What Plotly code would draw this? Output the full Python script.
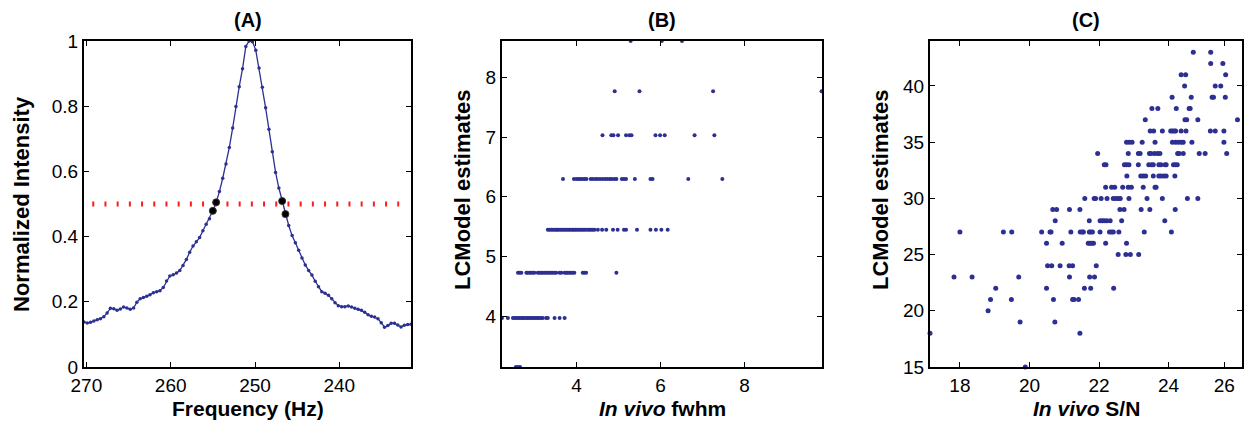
import plotly.graph_objects as go

# ---------------- Panel A: normalized spectrum around the peak ----------------
freq_hz = [
    270.28, 269.89, 269.50, 269.11, 268.71, 268.32, 267.93, 267.54, 267.15, 266.75,
    266.36, 265.97, 265.58, 265.19, 264.80, 264.40, 264.01, 263.62, 263.23, 262.84,
    262.45, 262.05, 261.66, 261.27, 260.88, 260.49, 260.10, 259.70, 259.31, 258.92,
    258.53, 258.14, 257.75, 257.35, 256.96, 256.57, 256.18, 255.79, 255.40, 255.00,
    254.61, 254.22, 253.83, 253.44, 253.05, 252.65, 252.26, 251.87, 251.48, 251.09,
    250.70, 250.30, 249.91, 249.52, 249.13, 248.74, 248.35, 247.95, 247.56, 247.17,
    246.78, 246.39, 246.00, 245.60, 245.21, 244.82, 244.43, 244.04, 243.64, 243.25,
    242.86, 242.47, 242.08, 241.69, 241.29, 240.90, 240.51, 240.12, 239.73, 239.34,
    238.94, 238.55, 238.16, 237.77, 237.38, 236.99, 236.59, 236.20, 235.81, 235.42,
    235.03, 234.64, 234.24, 233.85, 233.46, 233.07, 232.68, 232.29, 231.89, 231.50,
]
intensity = [
    0.138, 0.135, 0.137, 0.141, 0.145, 0.148, 0.154, 0.166, 0.180, 0.179,
    0.174, 0.178, 0.184, 0.181, 0.177, 0.181, 0.199, 0.209, 0.213, 0.217,
    0.222, 0.228, 0.231, 0.234, 0.244, 0.264, 0.279, 0.283, 0.288, 0.296,
    0.311, 0.330, 0.352, 0.371, 0.384, 0.397, 0.418, 0.438, 0.455, 0.479,
    0.505, 0.538, 0.579, 0.623, 0.673, 0.733, 0.799, 0.860, 0.915, 0.983,
    1.000, 0.998, 0.972, 0.917, 0.858, 0.795, 0.729, 0.660, 0.597, 0.549,
    0.509, 0.469, 0.434, 0.403, 0.381, 0.358, 0.334, 0.313, 0.296, 0.282,
    0.263, 0.246, 0.231, 0.226, 0.220, 0.209, 0.197, 0.188, 0.185, 0.185,
    0.187, 0.184, 0.180, 0.177, 0.174, 0.168, 0.160, 0.156, 0.153, 0.148,
    0.136, 0.122, 0.127, 0.134, 0.134, 0.129, 0.123, 0.128, 0.130, 0.131,
]
# samples bracketing the half-maximum on each flank
fwhm_idx = [39, 40, 60, 61]
half_max = 0.5
half_line_x = [269.3, 232.9]

# ---------------- Panel B: LCModel vs in vivo fwhm ----------------
fwhm_levels = {
    3.15: [2.56, 2.61, 2.66],
    3.97: [2.23, 2.37, 2.49, 2.53, 2.57, 2.61, 2.65, 2.69, 2.73, 2.76, 2.81, 2.84, 2.88,
           2.92, 2.96, 3.00, 3.04, 3.08, 3.12, 3.16, 3.20, 3.28, 3.32, 3.48, 3.60, 3.72],
    4.73: [2.61, 2.65, 2.69, 2.81, 2.84, 2.88, 2.92, 2.96, 3.00, 3.08, 3.12, 3.16, 3.20,
           3.24, 3.28, 3.32, 3.36, 3.40, 3.44, 3.48, 3.52, 3.60, 3.64, 3.72, 3.76, 3.79,
           3.83, 3.87, 3.91, 3.95, 4.15, 4.19, 4.23, 4.95],
    5.45: [3.32, 3.36, 3.40, 3.44, 3.48, 3.52, 3.55, 3.59, 3.63, 3.67, 3.71, 3.75, 3.79,
           3.83, 3.87, 3.91, 3.94, 3.98, 4.02, 4.06, 4.10, 4.14, 4.18, 4.22, 4.27, 4.31,
           4.35, 4.39, 4.43, 4.51, 4.61, 4.71, 4.87, 4.98, 5.13, 5.18, 5.44, 5.76, 5.89,
           6.02, 6.17],
    6.30: [3.68, 3.94, 4.00, 4.05, 4.09, 4.14, 4.19, 4.24, 4.34, 4.39, 4.45, 4.50, 4.56,
           4.62, 4.68, 4.73, 4.79, 4.84, 4.90, 4.95, 5.08, 5.13, 5.18, 5.39, 5.76, 5.81,
           6.66, 7.47],
    7.03: [4.62, 4.83, 4.88, 4.99, 5.18, 5.26, 5.31, 5.88, 5.99, 6.10, 6.81, 7.28],
    7.77: [4.91, 5.50, 7.25, 9.83],
    8.61: [5.29, 6.03, 6.51],
}

# ---------------- Panel C: LCModel vs in vivo S/N ----------------
snr_levels = {
    43: [24.71, 25.21],
    42: [25.21, 25.56],
    41: [24.36, 24.49, 25.64],
    40: [24.46, 25.34, 25.50],
    39: [24.10, 24.65, 25.25, 25.29, 25.63],
    38: [23.52, 23.69, 24.22, 24.59, 24.62],
    37: [23.33, 24.47, 24.52, 24.84, 25.98],
    36: [23.47, 23.57, 23.82, 24.06, 24.11, 24.16, 24.20, 24.36, 24.50, 25.20, 25.34, 25.59],
    35: [22.79, 22.87, 22.95, 23.24, 23.61, 24.11, 24.20, 24.28, 24.36, 24.42, 24.67, 25.59],
    34: [21.96, 22.84, 23.13, 23.18, 23.45, 23.49, 23.59, 23.68, 23.75, 24.26, 24.30, 24.42,
         24.88, 25.05, 25.67],
    33: [22.15, 22.20, 22.73, 22.79, 22.86, 23.13, 23.43, 23.51, 23.56, 23.72, 23.78, 23.90,
         23.93, 24.14, 24.19, 24.25],
    32: [22.80, 23.20, 23.27, 23.34, 23.56, 23.72, 23.78, 23.86, 23.93, 24.18],
    31: [22.19, 22.36, 22.45, 22.68, 22.84, 22.93, 23.27, 23.61, 23.64],
    30: [21.59, 21.86, 21.90, 22.06, 22.23, 22.41, 22.48, 22.55, 22.61, 22.86, 23.38, 23.82,
         24.54, 24.84],
    29: [20.67, 20.78, 21.15, 21.45, 22.60, 22.72, 23.21, 23.46, 24.19],
    28: [20.74, 21.72, 22.03, 22.09, 22.15, 22.22, 22.32, 22.65, 23.89],
    27: [18.00, 19.25, 19.49, 20.35, 20.59, 20.62, 21.19, 21.46, 21.52, 21.55, 21.72, 21.76,
         21.81, 22.03, 22.30, 22.36, 22.41, 22.57, 23.30, 24.08],
    26: [20.49, 20.94, 21.69, 21.74, 21.79, 21.84, 22.19, 22.79],
    25: [22.55, 22.77, 22.90, 23.14],
    24: [20.52, 20.64, 20.88, 21.14, 21.24, 21.92],
    23: [17.83, 18.35, 19.69, 21.15, 21.73, 21.87],
    22: [19.03, 20.49, 21.58, 21.76, 22.42],
    21: [18.88, 19.48, 20.69, 21.24, 21.28, 21.41],
    20: [18.81],
    19: [19.73, 20.73],
    18: [17.14, 21.45],
    15: [19.88],
}
snr_tickvals = [18, 20, 22, 24, 25.6]
snr_ticktext = ["18", "20", "22", "24", "26"]

# ---------------- styling ----------------
NAVY = "#2D3092"
FONT = "Liberation Sans, Arial, sans-serif"
TICK_FONT = dict(family=FONT, size=19, color="black")

def flatten(levels):
    xs, ys = [], []
    for y, xlist in levels.items():
        for x in xlist:
            xs.append(x)
            ys.append(y)
    return xs, ys

fig = go.Figure()

# Panel A
fig.add_trace(go.Scatter(
    x=freq_hz, y=intensity, mode="lines+markers",
    line=dict(color=NAVY, width=1.3),
    marker=dict(color=NAVY, size=3.5),
    xaxis="x", yaxis="y", cliponaxis=False, showlegend=False))
fig.add_trace(go.Scatter(
    x=half_line_x, y=[half_max, half_max], mode="lines",
    line=dict(color="#FF1A1A", width=5, dash="2px,10.2px"),
    xaxis="x", yaxis="y", showlegend=False))
fig.add_trace(go.Scatter(
    x=[freq_hz[i] for i in fwhm_idx], y=[intensity[i] for i in fwhm_idx],
    mode="markers", marker=dict(color="black", size=7,
                                line=dict(color="#333333", width=1)),
    xaxis="x", yaxis="y", cliponaxis=False, showlegend=False))

# Panel B
bx, by = flatten(fwhm_levels)
fig.add_trace(go.Scatter(
    x=bx, y=by, mode="markers", marker=dict(color=NAVY, size=4),
    xaxis="x2", yaxis="y2", cliponaxis=False, showlegend=False))

# Panel C
cx, cy = flatten(snr_levels)
fig.add_trace(go.Scatter(
    x=cx, y=cy, mode="markers", marker=dict(color=NAVY, size=5),
    xaxis="x3", yaxis="y3", cliponaxis=False, showlegend=False))

W, H = 1247, 428
y_dom = [(H - 367) / H, (H - 41) / H]

def axis_style(**kw):
    base = dict(showline=True, linewidth=2, linecolor="black", mirror="ticks",
                ticks="inside", ticklen=5, tickwidth=1, tickcolor="black",
                showgrid=False, zeroline=False, tickfont=TICK_FONT,
                automargin=False)
    base.update(kw)
    return base

fig.update_layout(
    width=W, height=H, autosize=False,
    margin=dict(l=0, r=0, t=0, b=0, pad=0),
    paper_bgcolor="white", plot_bgcolor="white",
    xaxis=axis_style(domain=[84 / W, 411 / W], range=[270.28, 231.5],
                     tickvals=[270, 260, 250, 240], anchor="y"),
    yaxis=axis_style(domain=y_dom, range=[0, 1], dtick=0.2, anchor="x"),
    xaxis2=axis_style(domain=[502 / W, 822 / W], range=[2.23, 9.84],
                      tickvals=[4, 6, 8], anchor="y2"),
    yaxis2=axis_style(domain=y_dom, range=[3.15, 8.61],
                      tickvals=[4, 5, 6, 7, 8], anchor="x2"),
    xaxis3=axis_style(domain=[930 / W, 1242 / W], range=[17.14, 26.11],
                      tickvals=snr_tickvals, ticktext=snr_ticktext, anchor="y3"),
    yaxis3=axis_style(domain=y_dom, range=[15, 44],
                      tickvals=[15, 20, 25, 30, 35, 40], anchor="x3"),
)

TITLE_FONT = dict(family=FONT, size=20, color="black")
LABEL_FONT = dict(family=FONT, size=21, color="black")

annotations = [
    ("<b>(A)</b>", 247.5, 20, 0, TITLE_FONT),
    ("<b>(B)</b>", 662, 20, 0, TITLE_FONT),
    ("<b>(C)</b>", 1086, 20, 0, TITLE_FONT),
    ("<b>Frequency (Hz)</b>", 247.5, 408, 0, LABEL_FONT),
    ("<b><i>In vivo</i> fwhm</b>", 662, 408, 0, LABEL_FONT),
    ("<b><i>In vivo</i> S/N</b>", 1086, 408, 0, LABEL_FONT),
    ("<b>Normalized Intensity</b>", 22, 204, -90, dict(LABEL_FONT, size=22)),
    ("<b>LCModel estimates</b>", 462, 190, -90, dict(LABEL_FONT, size=22)),
    ("<b>LCModel estimates</b>", 880, 190, -90, dict(LABEL_FONT, size=22)),
]
for text, px, py, angle, font in annotations:
    fig.add_annotation(
        text=text, x=px / W, y=1 - py / H, xref="paper", yref="paper",
        xanchor="center", yanchor="middle", showarrow=False,
        textangle=angle, font=font)

# keep the page flush with the window edges
fig.write_html(
    "out.html",
    post_script="document.body.style.margin='0';"
                "document.documentElement.style.overflow='hidden';",
)
